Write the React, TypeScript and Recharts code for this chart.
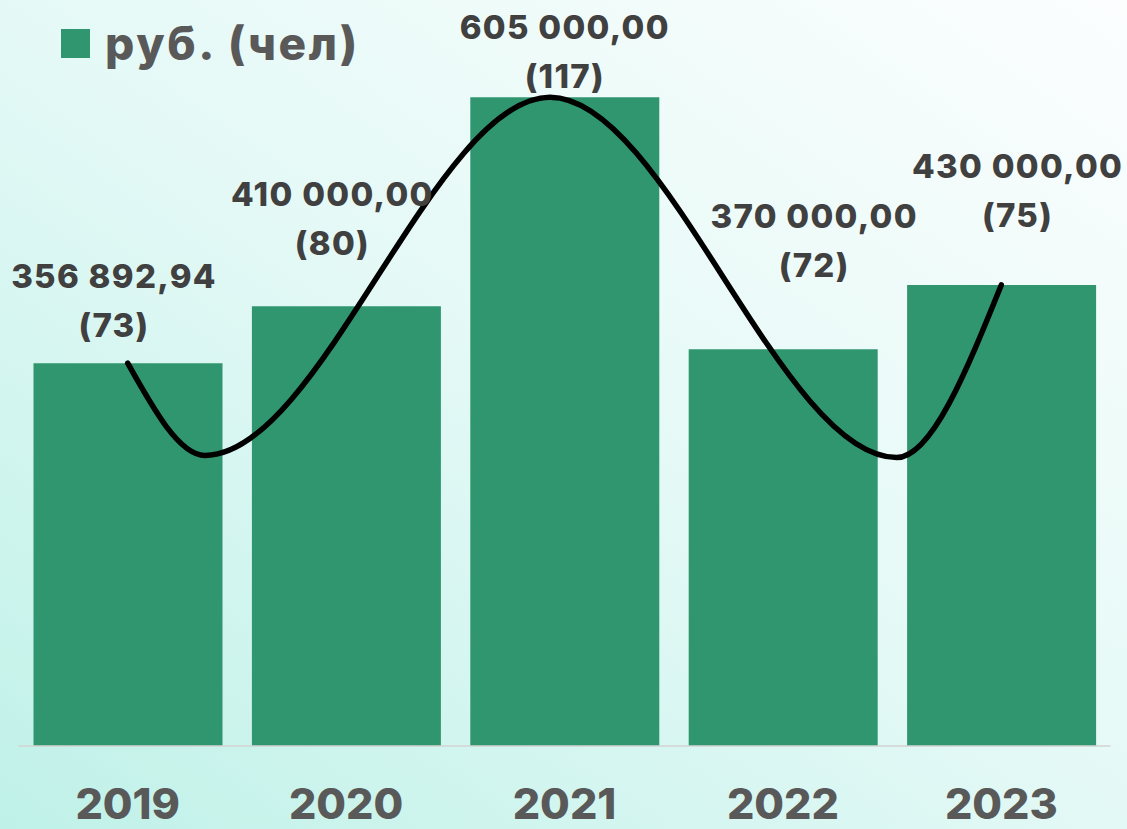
import { ComposedChart, Bar, Line, XAxis, YAxis, Legend, LabelList } from 'recharts'

const years = ['2019', '2020', '2021', '2022', '2023']
const rubles = [356892.94, 410000, 605000, 370000, 430000]
const people = [73, 80, 117, 72, 75]

// decorative wave drawn over the bars (x in category units, 0 = 2019)
const waveX = [0, 0.354, 1.934, 3.521, 4]
const waveY = [357000, 271000, 605000, 269000, 430000]

const rows = years.map((year, i) => ({ year, rub: rubles[i], people: people[i] }))
const wave = waveX.map((x, i) => ({ x, y: waveY[i] }))

// hand-placed labels in the original: horizontal shift and lift above bar top
const labelShiftX = [-14, -14, 0, 31, 16]
const labelLift = [26, 51, 9, 72, 58]

const BAR = '#30966f'
const FONT = 'Inter, "Open Sans", sans-serif'

function fmt(v: number) {
  const [int, dec] = v.toFixed(2).split('.')
  return int.replace(/\B(?=(\d{3})+(?!\d))/g, ' ') + ',' + dec
}

function ValueLabel(props: any) {
  const { x, y, width, value } = props
  let index = props.index
  if (index === undefined) index = rubles.indexOf(value)
  const cx = Number(x) + Number(width) / 2 + labelShiftX[index]
  const base2 = Number(y) - labelLift[index]
  const style = { letterSpacing: 1.3 }
  return (
    <g>
      <text x={cx} y={base2 - 49} textAnchor="middle" fill="#404040" style={style}
        fontFamily={FONT} fontWeight={800} fontSize={33}>
        {fmt(rubles[index])}
      </text>
      <text x={cx} y={base2} textAnchor="middle" fill="#404040" style={style}
        fontFamily={FONT} fontWeight={800} fontSize={33}>
        ({people[index]})
      </text>
    </g>
  )
}

function YearTick(props: any) {
  const { x, y, payload } = props
  return (
    <text x={x} y={y + 73} textAnchor="middle" fill="#595959"
      fontFamily={FONT} fontWeight={800} fontSize={43}>
      {payload.value}
    </text>
  )
}

function LegendBox() {
  return (
    <div style={{ display: 'flex', alignItems: 'center' }}>
      <span style={{ width: 29, height: 29, background: BAR, display: 'inline-block' }} />
      <span style={{
        marginLeft: 15, fontFamily: FONT, fontWeight: 800, fontSize: 46,
        letterSpacing: 2.6, color: '#595959', whiteSpace: 'nowrap', lineHeight: '52px'
      }}>
        руб. (чел)
      </span>
    </div>
  )
}

export default function App() {
  return (
    <div style={{
      width: 1127, height: 829, overflow: 'hidden', position: 'relative',
      background: 'linear-gradient(35deg, #bff1e8 0%, #e4f9f6 50%, #fcfefe 100%)'
    }}>
      <style>{'body{margin:0}'}</style>
      <ComposedChart width={1127} height={829} data={rows}
        margin={{ top: 49, right: 16.5, left: 18.5, bottom: 23 }}>
        <XAxis xAxisId="cat" dataKey="year" height={60} tickSize={0} tickMargin={0}
          tickLine={false} axisLine={{ stroke: '#d3d3d3', strokeWidth: 1.5 }}
          tick={<YearTick />} interval={0} />
        <XAxis xAxisId="wave" dataKey="x" type="number" domain={[-0.5, 4.5]}
          allowDataOverflow hide />
        <YAxis domain={[0, 650000]} hide />
        <Legend layout="horizontal" verticalAlign="middle" align="center"
          wrapperStyle={{ top: 17, left: 61, width: 'auto' }}
          content={() => <LegendBox />} />
        <Bar xAxisId="cat" dataKey="rub" name="руб. (чел)" fill={BAR} barSize={189}
          isAnimationActive={false}>
          <LabelList dataKey="rub" content={<ValueLabel />} />
        </Bar>
        <Line xAxisId="wave" data={wave} dataKey="y" type="monotone" stroke="#000"
          strokeWidth={5.5} strokeLinecap="round" dot={false} activeDot={false}
          legendType="none" isAnimationActive={false} />
      </ComposedChart>
    </div>
  )
}
